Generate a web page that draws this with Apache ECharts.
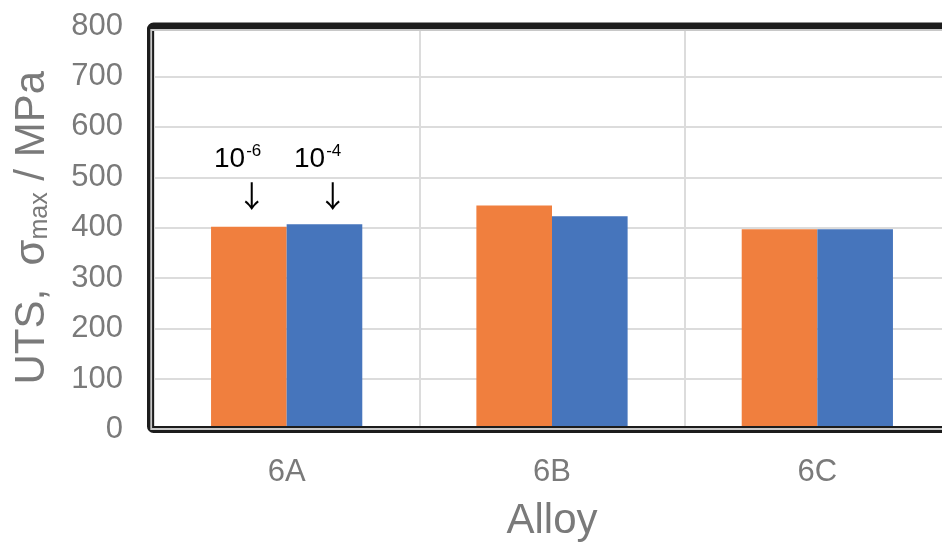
<!DOCTYPE html>
<html>
<head>
<meta charset="utf-8">
<script src="https://cdn.jsdelivr.net/npm/echarts@6/dist/echarts.min.js"></script>
<style>
  html, body { margin: 0; padding: 0; background: #ffffff; overflow: hidden; }
  /* the plot runs a little past the right edge of the window */
  #chart { width: 960px; height: 543px; }
</style>
</head>
<body>
<div id="chart"></div>
<script>
// Alloy categories and ultimate tensile strength (MPa) at two strain rates
const alloys = ['6A', '6B', '6C'];
const utsSlow = [402, 444, 397];   // strain rate 10^-6 s^-1
const utsFast = [407, 423, 397];   // strain rate 10^-4 s^-1
const yMin = 0;
const yMax = 800;
const yStep = 100;

const FONT = '"Liberation Sans", Arial, "DejaVu Sans", sans-serif';
const GRAY_TEXT = '#7a7a7a';
const GRID = { left: 154, top: 26, width: 796, height: 403.5 };

const chart = echarts.init(document.getElementById('chart'), null, { renderer: 'canvas' });

chart.setOption({
  backgroundColor: '#ffffff',
  animation: false,
  grid: {
    left: GRID.left, top: GRID.top, width: GRID.width, height: GRID.height,
    containLabel: false, outerBoundsMode: 'none'
  },
  xAxis: {
    type: 'category',
    data: alloys,
    name: 'Alloy',
    nameLocation: 'middle',
    nameGap: 71,
    nameTextStyle: { fontFamily: FONT, fontSize: 42, color: GRAY_TEXT },
    axisLine: { show: false },
    axisTick: { show: false },
    axisLabel: { fontFamily: FONT, fontSize: 31, color: GRAY_TEXT, margin: 27 },
    splitLine: { show: true, lineStyle: { color: '#dcdcdc', width: 2 } }
  },
  yAxis: {
    type: 'value',
    min: yMin,
    max: yMax,
    interval: yStep,
    name: '{a|UTS,  σ}{sub|max}{a| / MPa}',
    nameLocation: 'middle',
    nameRotate: 90,
    nameGap: 101,
    nameTextStyle: {
      fontFamily: FONT,
      color: GRAY_TEXT,
      rich: {
        a: { fontFamily: FONT, fontSize: 42, color: GRAY_TEXT },
        sub: { fontFamily: FONT, fontSize: 25, color: GRAY_TEXT, verticalAlign: 'bottom' }
      }
    },
    axisLine: { show: false },
    axisTick: { show: false },
    axisLabel: { fontFamily: FONT, fontSize: 31, color: GRAY_TEXT, margin: 31, padding: [10, 0, 0, 0] },
    splitLine: { show: true, lineStyle: { color: '#dcdcdc', width: 2 } }
  },
  series: [
    {
      name: '10^-6',
      type: 'bar',
      data: utsSlow,
      barGap: '0%',
      barCategoryGap: '43%',
      itemStyle: { color: '#F07F3E' },
      z: 2
    },
    {
      name: '10^-4',
      type: 'bar',
      data: utsFast,
      barGap: '0%',
      barCategoryGap: '43%',
      itemStyle: { color: '#4675BC' },
      z: 2
    }
  ]
});

// Strain-rate annotations placed relative to the 6A category centre
const c6A = chart.convertToPixel({ xAxisIndex: 0, yAxisIndex: 0 }, ['6A', 0]);
const cx = c6A[0];
const rateText = (label, x) => ({
  type: 'text',
  z: 50,
  x: x,
  y: 159,
  style: {
    text: '{b|10}{s|' + label + '}',
    align: 'center',
    verticalAlign: 'middle',
    rich: {
      b: { fontFamily: FONT, fontSize: 28, color: '#000000', lineHeight: 32 },
      s: { fontFamily: FONT, fontSize: 17, color: '#000000', verticalAlign: 'top', padding: [0, 0, 0, 1] }
    }
  }
});
const arrow = (x) => ({
  type: 'text',
  z: 50,
  x: x,
  y: 196,
  style: { text: '↓', fontFamily: '"Noto Sans CJK JP", "Noto Sans CJK SC", "DejaVu Sans", sans-serif', fontSize: 30, fill: '#000000', align: 'center', verticalAlign: 'middle' }
});

chart.setOption({
  graphic: [
    // outer dark frame around the plot
    {
      type: 'rect', z: 40, silent: true,
      shape: { x: GRID.left - 3.5, y: GRID.top, width: GRID.width + 40, height: GRID.height, r: 3 },
      style: { fill: 'transparent', stroke: '#1c1c1c', lineWidth: 7 }
    },
    // thin light inner line of the frame
    {
      type: 'rect', z: 41, silent: true,
      shape: { x: GRID.left - 2.8, y: GRID.top + 4, width: GRID.width + 40, height: GRID.height - 4.5 },
      style: { fill: 'transparent', stroke: '#c8c8c8', lineWidth: 1.8 }
    },
    rateText('-6', cx - 49),
    arrow(cx - 35),
    rateText('-4', cx + 31),
    arrow(cx + 46)
  ]
});
</script>
</body>
</html>
